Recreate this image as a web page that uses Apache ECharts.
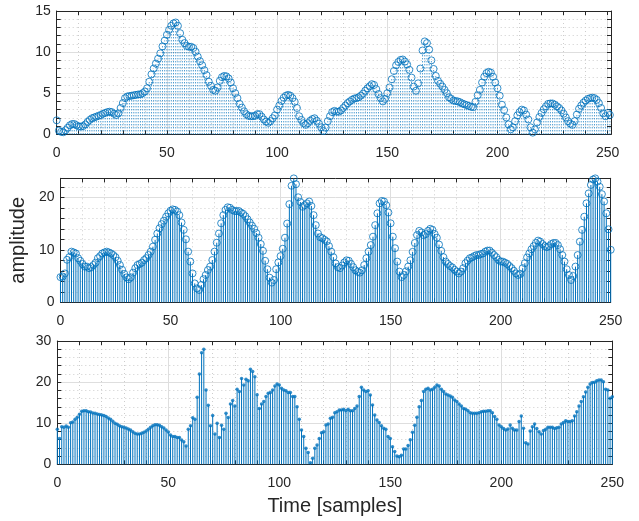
<!DOCTYPE html>
<html><head><meta charset="utf-8">
<script src="https://cdn.jsdelivr.net/npm/echarts@6/dist/echarts.min.js"></script>
<style>html,body{margin:0;padding:0;background:#fff}#c{width:639px;height:521px}</style>
</head><body><div id="c"></div>
<script>
// ---- data ----
const topValues = [
1.7,0.45,0.3,0.25,0.5,0.8,1.1,1.25,1.25,1.1,
0.95,0.95,1.0,1.2,1.5,1.75,1.95,2.05,2.15,2.25,
2.35,2.5,2.6,2.7,2.75,2.7,2.5,2.35,2.55,3.2,
3.8,4.4,4.6,4.65,4.7,4.75,4.8,4.85,4.85,5.0,
5.2,5.6,6.4,7.3,8.0,8.6,9.2,9.85,10.7,11.4,
12.1,12.7,13.2,13.5,13.6,13.2,12.3,11.5,11.1,10.75,
10.65,10.65,10.5,10.05,9.45,8.9,8.4,7.8,7.2,6.4,
5.9,5.4,5.3,5.7,6.5,6.95,7.1,7.05,6.8,6.3,
5.6,5.0,4.4,3.7,3.25,2.8,2.45,2.25,2.2,2.2,
2.25,2.45,2.45,2.15,1.8,1.55,1.4,1.6,1.95,2.3,
3.0,3.5,4.05,4.45,4.7,4.8,4.7,4.4,3.95,3.2,
2.2,1.75,1.35,1.15,1.35,1.65,1.85,1.95,1.65,1.3,
0.85,0.4,0.8,1.6,2.2,2.7,2.85,2.75,2.75,2.9,
3.2,3.5,3.8,4.0,4.2,4.35,4.4,4.5,4.7,4.95,
5.3,5.6,5.85,6.1,6.0,5.5,4.9,4.4,4.0,4.3,
5.0,5.7,6.7,7.7,8.4,8.8,9.05,9.1,8.85,8.5,
7.85,6.9,5.8,5.3,6.2,8.0,10.2,11.3,11.1,10.3,
9.0,7.95,7.1,6.5,6.15,5.8,5.4,5.0,4.5,4.3,
4.1,4.05,4.0,3.9,3.75,3.65,3.55,3.45,3.35,3.3,
3.95,4.75,5.4,6.3,7.0,7.45,7.6,7.5,7.0,6.3,
5.6,4.7,3.6,2.95,2.05,1.2,0.6,0.85,1.6,2.3,
2.7,3.0,2.9,2.4,1.8,0.85,0.2,0.6,1.45,2.1,
2.6,3.05,3.4,3.7,3.75,3.75,3.6,3.4,3.2,2.9,
2.5,2.05,1.6,1.3,1.15,1.6,2.4,3.1,3.5,3.85,
4.1,4.3,4.4,4.45,4.4,4.2,3.8,3.2,2.55,2.2,
2.6,2.35];

const midValues = [
4.8,4.9,5.5,8.1,8.6,9.65,9.5,9.3,8.4,7.9,
7.3,6.8,6.8,6.5,6.7,7.1,7.55,8.4,8.8,9.3,
9.5,9.65,9.5,9.3,9.0,8.6,7.9,7.1,6.2,5.4,
4.75,4.4,4.75,5.65,6.5,7.1,7.3,7.55,8.05,8.4,
9.0,9.65,10.6,11.9,13.1,14.1,14.9,15.55,16.3,16.95,
17.45,17.7,17.6,17.3,16.6,15.2,13.8,12.0,9.65,7.75,
5.5,3.6,2.65,2.35,3.3,4.4,5.2,6.15,6.8,8.05,
9.65,11.35,13.1,15.05,16.6,17.6,18.1,18.0,17.6,17.4,
17.35,17.4,17.1,16.85,16.4,15.8,15.2,14.6,14.0,13.2,
12.3,11.1,9.8,7.9,6.3,4.7,3.75,4.25,6.3,7.6,
8.8,10.2,12.3,15.0,18.7,22.2,23.6,22.5,20.0,19.1,
18.2,18.5,18.85,19.2,18.35,16.6,14.7,13.1,12.4,12.2,
11.9,11.6,10.7,9.65,8.6,7.4,6.7,6.5,7.0,7.6,
8.0,7.9,7.3,6.7,6.1,5.8,5.65,6.1,7.1,8.4,
9.65,10.9,12.5,14.7,16.95,18.85,19.3,19.2,18.5,17.1,
15.05,12.5,10.3,7.75,5.85,4.8,5.2,5.9,6.8,8.0,
9.6,11.3,12.8,13.6,13.3,12.8,13.0,13.6,14.0,13.8,
13.0,12.3,11.0,9.8,8.6,7.75,7.3,6.9,6.65,6.2,
5.85,5.5,5.85,6.5,7.45,7.95,8.4,8.55,8.8,9.0,
9.0,9.2,9.3,9.65,9.85,9.85,9.45,9.0,8.6,8.05,
7.75,7.75,7.55,7.3,6.9,6.5,6.0,5.5,5.2,5.4,
6.5,7.45,8.55,9.3,10.1,10.7,11.3,11.75,11.55,11.1,
10.7,10.5,10.7,11.1,11.3,11.3,10.9,10.1,9.0,7.75,
6.3,5.2,4.25,5.0,6.8,9.0,11.55,13.8,16.3,18.85,
20.75,22.35,23.4,23.6,23.0,22.0,20.6,19.2,16.95,13.9,
10.0];

const botValues = [
8.5,6.25,9.15,9.0,9.3,9.0,10.1,10.3,10.95,11.45,
12.2,12.9,13.05,13.05,12.8,12.7,12.5,12.4,12.25,12.1,
12.0,11.85,11.6,11.25,10.95,10.45,10.0,9.75,9.4,9.15,
9.0,8.85,8.6,8.35,7.95,7.55,7.4,7.4,7.55,7.8,
8.1,8.5,9.0,9.4,9.65,9.65,9.5,9.15,8.85,8.35,
7.85,7.15,6.75,6.75,6.55,6.55,5.9,5.5,4.45,8.5,
9.4,11.35,10.95,16.3,21.95,27.15,28.0,18.1,14.35,9.4,
11.9,7.4,10.0,6.55,9.5,8.5,12.4,11.4,14.7,15.5,
14.2,18.25,17.7,20.9,19.3,20.7,20.35,23.1,22.55,21.3,
16.9,13.6,14.7,15.25,16.5,17.3,17.45,18.1,19.05,19.55,
19.3,18.5,18.1,17.9,17.45,17.45,16.5,16.5,14.0,10.95,
8.35,6.75,3.9,2.85,0.4,1.45,3.9,4.7,6.3,7.7,
7.95,9.55,9.8,11.2,11.45,12.55,12.8,13.2,13.2,13.4,
13.05,13.4,13.05,13.05,13.6,14.2,16.5,18.75,18.1,17.7,
17.9,16.85,14.45,12.0,10.8,10.15,9.35,8.75,8.5,6.75,
6.3,4.3,3.1,2.0,1.85,2.2,3.7,3.7,4.6,6.0,
7.8,9.5,11.45,14.0,15.5,17.7,18.25,18.5,18.1,18.25,
18.75,19.3,19.05,18.25,17.7,17.1,16.85,16.6,16.3,15.65,
15.25,14.7,14.2,13.6,13.4,13.05,12.55,12.4,12.4,12.4,
12.55,12.8,12.9,12.9,13.0,13.05,12.55,11.6,10.95,9.55,
9.15,8.7,8.35,8.6,9.55,8.75,8.35,8.35,10.4,11.75,
8.75,5.25,4.95,8.1,9.15,9.8,8.7,7.95,7.4,8.2,
8.5,9.0,9.0,9.0,8.7,8.9,9.0,9.8,10.15,10.6,
10.4,10.4,10.6,11.75,12.8,14.2,15.25,16.45,17.6,18.75,
19.55,19.9,19.95,20.35,20.5,20.5,20.1,18.25,18.1,16.05,
16.45];

const xTickLabels = [0, 50, 100, 150, 200, 250];
const topYTicks = [0, 5, 10, 15];
const midYTicks = [0, 10, 20];
const botYTicks = [0, 10, 20, 30];
const xAxisTitle = 'Time [samples]';
const yAxisTitle = 'amplitude';

// ---- styling / layout ----
const BLUE = '#0072BD';
const AX = '#262626';
const MAJOR = '#dedede';
const MINOR = '#cdcdcd';
const FONT = '"Liberation Sans", Arial, Helvetica, sans-serif';

const panels = [
  { values: topValues, xMax: 251.5, yMax: 15, yMajor: 5, yMinor: 1, yTicks: topYTicks,
    grid: { left: 56.7, top: 11, width: 554.3, height: 123.3 }, dash: [1, 2], marker: 'circle' },
  { values: midValues, xMax: 250, yMax: 23.62, yMajor: 10, yMinor: 2, yTicks: midYTicks,
    grid: { left: 54.3, top: 178.3, width: 556.4, height: 124 }, dash: null, marker: 'circle', yName: yAxisTitle },
  { values: botValues, xMax: 250, yMax: 30, yMajor: 10, yMinor: 2, yTicks: botYTicks,
    grid: { left: 57.3, top: 341, width: 555, height: 123.3 }, dash: null, marker: 'dot', xName: xAxisTitle }
];

const grids = [], xAxes = [], yAxes = [], series = [];
panels.forEach((p, g) => {
  grids.push(Object.assign({ containLabel: false }, p.grid));
  const xb = xAxes.length, yb = yAxes.length;
  xAxes.push({ gridIndex: g, type: 'value', min: 0, max: p.xMax, interval: 10, position: 'bottom',
    axisLine: { show: false, onZero: false }, axisLabel: { show: false },
    axisTick: { show: true, inside: true, length: 4, lineStyle: { color: AX, width: 1 } },
    splitLine: { show: true, lineStyle: { color: MINOR, width: 1, type: [1, 3] } } });
  xAxes.push({ gridIndex: g, type: 'value', min: 0, max: p.xMax, interval: 50, position: 'bottom',
    axisLine: { show: true, onZero: false, lineStyle: { color: AX, width: 1 } },
    axisTick: { show: false },
    axisLabel: { show: true, fontSize: 14, color: AX, fontFamily: FONT, margin: 12,
      formatter: v => xTickLabels.includes(v) ? String(v) : '' },
    splitLine: { show: true, lineStyle: { color: MAJOR, width: 1 } },
    name: p.xName || '', nameLocation: 'middle', nameGap: 32,
    nameTextStyle: { fontSize: 20, color: AX, fontFamily: FONT } });
  xAxes.push({ gridIndex: g, type: 'value', min: 0, max: p.xMax, interval: 10, position: 'top',
    axisLine: { show: true, onZero: false, lineStyle: { color: AX, width: 1 } },
    axisTick: { show: true, inside: true, length: 4, lineStyle: { color: AX, width: 1 } },
    axisLabel: { show: false }, splitLine: { show: false } });

  yAxes.push({ gridIndex: g, type: 'value', min: 0, max: p.yMax, interval: p.yMinor, position: 'left',
    axisLine: { show: false, onZero: false }, axisLabel: { show: false },
    axisTick: { show: true, inside: true, length: 4, lineStyle: { color: AX, width: 1 } },
    splitLine: { show: true, lineStyle: { color: MINOR, width: 1, type: [1, 3] } } });
  yAxes.push({ gridIndex: g, type: 'value', min: 0, max: p.yMax, interval: p.yMajor, position: 'left',
    axisLine: { show: true, onZero: false, lineStyle: { color: AX, width: 1 } },
    axisTick: { show: false },
    axisLabel: { show: true, fontSize: 14, color: AX, fontFamily: FONT, margin: 6,
      formatter: v => p.yTicks.includes(v) ? String(v) : '' },
    splitLine: { show: true, lineStyle: { color: MAJOR, width: 1 } },
    name: p.yName || '', nameLocation: 'middle', nameGap: 20,
    nameTextStyle: { fontSize: 20, color: AX, fontFamily: FONT } });
  yAxes.push({ gridIndex: g, type: 'value', min: 0, max: p.yMax, interval: p.yMinor, position: 'right',
    axisLine: { show: true, onZero: false, lineStyle: { color: AX, width: 1 } },
    axisTick: { show: true, inside: true, length: 4, lineStyle: { color: AX, width: 1 } },
    axisLabel: { show: false }, splitLine: { show: false } });

  const data = p.values.map((v, i) => [i, v]);
  const dash = p.dash;
  series.push({
    type: 'custom', xAxisIndex: xb + 1, yAxisIndex: yb + 1, data: data,
    encode: { x: 0, y: 1 }, clip: false, silent: true, z: 3,
    renderItem: (params, api) => {
      const x = api.value(0), y = api.value(1);
      const a = api.coord([x, 0]), b = api.coord([x, y]);
      return { type: 'line', shape: { x1: a[0], y1: a[1], x2: b[0], y2: b[1] },
        style: { stroke: BLUE, lineWidth: 1, lineDash: dash || null, fill: null } };
    }
  });
  if (p.marker === 'circle') {
    series.push({ type: 'scatter', xAxisIndex: xb + 1, yAxisIndex: yb + 1, data: data,
      symbol: 'circle', symbolSize: 7, clip: false, silent: true, z: 4,
      itemStyle: { color: 'rgba(0,0,0,0)', borderColor: BLUE, borderWidth: 1 } });
  } else {
    series.push({ type: 'scatter', xAxisIndex: xb + 1, yAxisIndex: yb + 1, data: data,
      symbol: 'circle', symbolSize: 3.5, clip: false, silent: true, z: 4,
      itemStyle: { color: BLUE, borderWidth: 0 } });
  }
});

const chart = echarts.init(document.getElementById('c'), null, { renderer: 'canvas', width: 639, height: 521 });
chart.setOption({
  animation: false,
  backgroundColor: '#ffffff',
  grid: grids, xAxis: xAxes, yAxis: yAxes, series: series
});
</script></body></html>
